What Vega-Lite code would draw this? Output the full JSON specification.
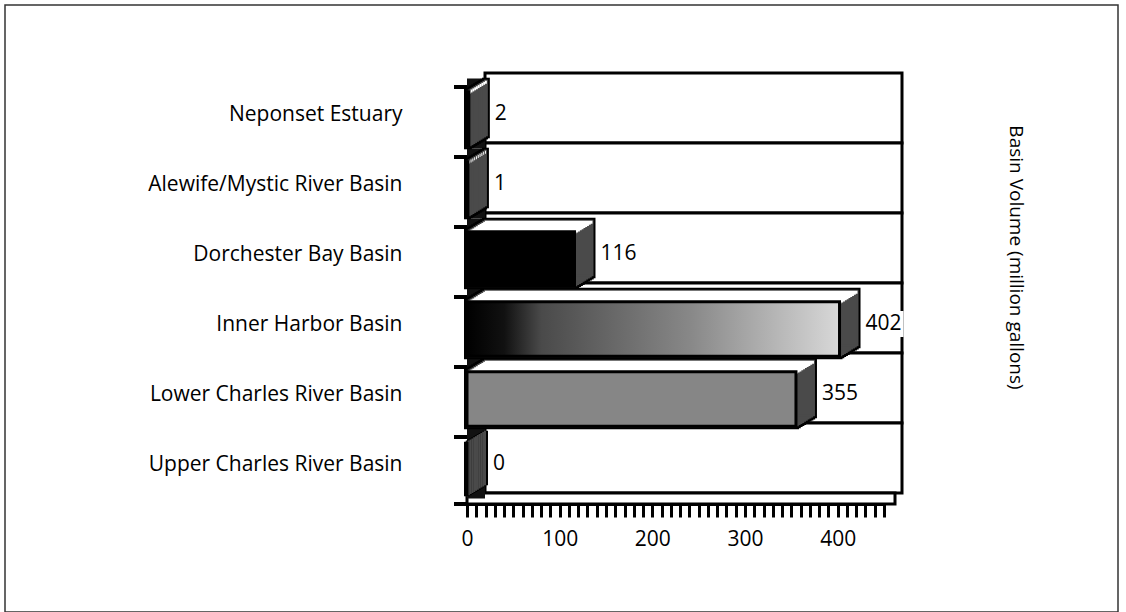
{
  "$schema": "https://vega.github.io/schema/vega-lite/v6.json",
  "width": 1113,
  "height": 607,
  "autosize": {"type": "none"},
  "padding": {"left": 5, "top": 5, "right": 8, "bottom": 0},
  "background": "white",
  "config": {
    "font": "Open Sans",
    "view": {"stroke": "#333333", "strokeWidth": 1.5}
  },
  "data": {
    "values": [
      {"basin": "Neponset Estuary", "volume": 2},
      {"basin": "Alewife/Mystic River Basin", "volume": 1},
      {"basin": "Dorchester Bay Basin", "volume": 116},
      {"basin": "Inner Harbor Basin", "volume": 402},
      {"basin": "Lower Charles River Basin", "volume": 355},
      {"basin": "Upper Charles River Basin", "volume": 0}
    ]
  },
  "encoding": {
    "y": {
      "field": "basin",
      "type": "nominal",
      "sort": null,
      "scale": {
        "domain": ["Neponset Estuary", "Alewife/Mystic River Basin", "Dorchester Bay Basin", "Inner Harbor Basin", "Lower Charles River Basin", "Upper Charles River Basin"],
        "range": [79, 499],
        "paddingInner": 0,
        "paddingOuter": 0
      }
    }
  },
  "layer": [
    {
      "description": "back wall panels, one per basin",
      "mark": {"type": "rect", "fill": "white", "stroke": "black", "strokeWidth": 3, "xOffset": 18, "x2Offset": 18, "yOffset": -11, "y2Offset": -11},
      "encoding": {
        "x": {"datum": 0, "type": "quantitative", "scale": {"domain": [0, 450], "range": [462, 879], "nice": false, "zero": true}},
        "x2": {"datum": 450}
      }
    },
    {
      "description": "floor strip under the bottom row",
      "transform": [{"filter": "datum.basin === 'Upper Charles River Basin'"}],
      "mark": {"type": "bar", "height": 11, "fill": "white", "stroke": "black", "strokeWidth": 3, "yOffset": 29.5, "x2Offset": 11},
      "encoding": {"x": {"datum": 0, "type": "quantitative"}, "x2": {"datum": 450}}
    },
    {
      "description": "left side wall",
      "mark": {"type": "rect", "fill": "#111111", "x2Offset": 18, "yOffset": -5.5, "y2Offset": -5.5},
      "encoding": {"x": {"datum": 0, "type": "quantitative"}, "x2": {"datum": 0}}
    },

    {"mark": {"type": "bar", "height": {"band": 0.78}, "fill": "black", "stroke": "black", "strokeWidth": 6, "xOffset": 0, "x2Offset": 0, "yOffset": 0},
     "encoding": {
       "x": {"field": "volume", "type": "quantitative", "scale": {"domain": [0, 450], "range": [462, 879], "nice": false, "zero": true},
             "axis": {"title": null, "offset": -108, "zindex": 1, "tickCount": 60,
                      "values": [0,10,20,30,40,50,60,70,80,90,100,110,120,130,140,150,160,170,180,190,200,210,220,230,240,250,260,270,280,290,300,310,320,330,340,350,360,370,380,390,400,410,420,430,440,450],
                      "labelExpr": "datum.value % 100 === 0 ? datum.label : ''",
                      "grid": false, "domainColor": "black", "domainWidth": 3, "tickColor": "black", "tickWidth": 3, "tickSize": 13,
                      "labelFontSize": 21, "labelColor": "black", "labelPadding": 11, "labelFlush": false, "labelOverlap": false, "labelBound": false}},
       "y": {"field": "basin", "type": "nominal",
             "axis": {"offset": -462, "zindex": 1, "ticks": false, "domain": false, "grid": false,
                      "labelPadding": 65, "labelFontSize": 21, "labelColor": "black", "labelOffset": -4, "labelLimit": 400,
                      "title": "Basin Volume (million gallons)", "titleAngle": 90, "titleX": 548, "titleY": 252,
                      "titleAlign": "center", "titleBaseline": "middle", "titleFontSize": 19, "titleFontWeight": "normal", "titleColor": "black"}}
     }},
    {"mark": {"type": "bar", "height": {"band": 0.78}, "fill": "black", "stroke": "black", "strokeWidth": 6, "xOffset": 1.8, "x2Offset": 1.8, "yOffset": -1.1}, "encoding": {"x": {"field": "volume", "type": "quantitative"}}},
    {"mark": {"type": "bar", "height": {"band": 0.78}, "fill": "black", "stroke": "black", "strokeWidth": 6, "xOffset": 3.6, "x2Offset": 3.6, "yOffset": -2.2}, "encoding": {"x": {"field": "volume", "type": "quantitative"}}},
    {"mark": {"type": "bar", "height": {"band": 0.78}, "fill": "black", "stroke": "black", "strokeWidth": 6, "xOffset": 5.4, "x2Offset": 5.4, "yOffset": -3.3}, "encoding": {"x": {"field": "volume", "type": "quantitative"}}},
    {"mark": {"type": "bar", "height": {"band": 0.78}, "fill": "black", "stroke": "black", "strokeWidth": 6, "xOffset": 7.2, "x2Offset": 7.2, "yOffset": -4.4}, "encoding": {"x": {"field": "volume", "type": "quantitative"}}},
    {"mark": {"type": "bar", "height": {"band": 0.78}, "fill": "black", "stroke": "black", "strokeWidth": 6, "xOffset": 9, "x2Offset": 9, "yOffset": -5.5}, "encoding": {"x": {"field": "volume", "type": "quantitative"}}},
    {"mark": {"type": "bar", "height": {"band": 0.78}, "fill": "black", "stroke": "black", "strokeWidth": 6, "xOffset": 10.8, "x2Offset": 10.8, "yOffset": -6.6}, "encoding": {"x": {"field": "volume", "type": "quantitative"}}},
    {"mark": {"type": "bar", "height": {"band": 0.78}, "fill": "black", "stroke": "black", "strokeWidth": 6, "xOffset": 12.6, "x2Offset": 12.6, "yOffset": -7.7}, "encoding": {"x": {"field": "volume", "type": "quantitative"}}},
    {"mark": {"type": "bar", "height": {"band": 0.78}, "fill": "black", "stroke": "black", "strokeWidth": 6, "xOffset": 14.4, "x2Offset": 14.4, "yOffset": -8.8}, "encoding": {"x": {"field": "volume", "type": "quantitative"}}},
    {"mark": {"type": "bar", "height": {"band": 0.78}, "fill": "black", "stroke": "black", "strokeWidth": 6, "xOffset": 16.2, "x2Offset": 16.2, "yOffset": -9.9}, "encoding": {"x": {"field": "volume", "type": "quantitative"}}},
    {"mark": {"type": "bar", "height": {"band": 0.78}, "fill": "black", "stroke": "black", "strokeWidth": 6, "xOffset": 18, "x2Offset": 18, "yOffset": -11}, "encoding": {"x": {"field": "volume", "type": "quantitative"}}},

    {"mark": {"type": "bar", "height": {"band": 0.78}, "fill": "#4a4a4a", "stroke": "#4a4a4a", "strokeWidth": 2, "xOffset": 0, "x2Offset": 0, "yOffset": 0}, "encoding": {"x": {"field": "volume", "type": "quantitative"}}},
    {"mark": {"type": "bar", "height": {"band": 0.78}, "fill": "#4a4a4a", "stroke": "#4a4a4a", "strokeWidth": 2, "xOffset": 1.8, "x2Offset": 1.8, "yOffset": -1.1}, "encoding": {"x": {"field": "volume", "type": "quantitative"}}},
    {"mark": {"type": "bar", "height": {"band": 0.78}, "fill": "#4a4a4a", "stroke": "#4a4a4a", "strokeWidth": 2, "xOffset": 3.6, "x2Offset": 3.6, "yOffset": -2.2}, "encoding": {"x": {"field": "volume", "type": "quantitative"}}},
    {"mark": {"type": "bar", "height": {"band": 0.78}, "fill": "#4a4a4a", "stroke": "#4a4a4a", "strokeWidth": 2, "xOffset": 5.4, "x2Offset": 5.4, "yOffset": -3.3}, "encoding": {"x": {"field": "volume", "type": "quantitative"}}},
    {"mark": {"type": "bar", "height": {"band": 0.78}, "fill": "#4a4a4a", "stroke": "#4a4a4a", "strokeWidth": 2, "xOffset": 7.2, "x2Offset": 7.2, "yOffset": -4.4}, "encoding": {"x": {"field": "volume", "type": "quantitative"}}},
    {"mark": {"type": "bar", "height": {"band": 0.78}, "fill": "#4a4a4a", "stroke": "#4a4a4a", "strokeWidth": 2, "xOffset": 9, "x2Offset": 9, "yOffset": -5.5}, "encoding": {"x": {"field": "volume", "type": "quantitative"}}},
    {"mark": {"type": "bar", "height": {"band": 0.78}, "fill": "#4a4a4a", "stroke": "#4a4a4a", "strokeWidth": 2, "xOffset": 10.8, "x2Offset": 10.8, "yOffset": -6.6}, "encoding": {"x": {"field": "volume", "type": "quantitative"}}},
    {"mark": {"type": "bar", "height": {"band": 0.78}, "fill": "#4a4a4a", "stroke": "#4a4a4a", "strokeWidth": 2, "xOffset": 12.6, "x2Offset": 12.6, "yOffset": -7.7}, "encoding": {"x": {"field": "volume", "type": "quantitative"}}},
    {"mark": {"type": "bar", "height": {"band": 0.78}, "fill": "#4a4a4a", "stroke": "#4a4a4a", "strokeWidth": 2, "xOffset": 14.4, "x2Offset": 14.4, "yOffset": -8.8}, "encoding": {"x": {"field": "volume", "type": "quantitative"}}},
    {"mark": {"type": "bar", "height": {"band": 0.78}, "fill": "#4a4a4a", "stroke": "#4a4a4a", "strokeWidth": 2, "xOffset": 16.2, "x2Offset": 16.2, "yOffset": -9.9}, "encoding": {"x": {"field": "volume", "type": "quantitative"}}},
    {"mark": {"type": "bar", "height": {"band": 0.78}, "fill": "#4a4a4a", "stroke": "#4a4a4a", "strokeWidth": 2, "xOffset": 18, "x2Offset": 18, "yOffset": -11}, "encoding": {"x": {"field": "volume", "type": "quantitative"}}},

    {"mark": {"type": "bar", "height": 3, "fill": "white", "xOffset": 1.8, "x2Offset": 1.8, "yOffset": -26.9}, "encoding": {"x": {"field": "volume", "type": "quantitative"}}},
    {"mark": {"type": "bar", "height": 3, "fill": "white", "xOffset": 3.6, "x2Offset": 3.6, "yOffset": -28}, "encoding": {"x": {"field": "volume", "type": "quantitative"}}},
    {"mark": {"type": "bar", "height": 3, "fill": "white", "xOffset": 5.4, "x2Offset": 5.4, "yOffset": -29.1}, "encoding": {"x": {"field": "volume", "type": "quantitative"}}},
    {"mark": {"type": "bar", "height": 3, "fill": "white", "xOffset": 7.2, "x2Offset": 7.2, "yOffset": -30.2}, "encoding": {"x": {"field": "volume", "type": "quantitative"}}},
    {"mark": {"type": "bar", "height": 3, "fill": "white", "xOffset": 9, "x2Offset": 9, "yOffset": -31.3}, "encoding": {"x": {"field": "volume", "type": "quantitative"}}},
    {"mark": {"type": "bar", "height": 3, "fill": "white", "xOffset": 10.8, "x2Offset": 10.8, "yOffset": -32.4}, "encoding": {"x": {"field": "volume", "type": "quantitative"}}},
    {"mark": {"type": "bar", "height": 3, "fill": "white", "xOffset": 12.6, "x2Offset": 12.6, "yOffset": -33.5}, "encoding": {"x": {"field": "volume", "type": "quantitative"}}},
    {"mark": {"type": "bar", "height": 3, "fill": "white", "xOffset": 14.4, "x2Offset": 14.4, "yOffset": -34.6}, "encoding": {"x": {"field": "volume", "type": "quantitative"}}},
    {"mark": {"type": "bar", "height": 3, "fill": "white", "xOffset": 16.2, "x2Offset": 16.2, "yOffset": -35.7}, "encoding": {"x": {"field": "volume", "type": "quantitative"}}},
    {"mark": {"type": "bar", "height": 3, "fill": "white", "xOffset": 18, "x2Offset": 18, "yOffset": -36.8}, "encoding": {"x": {"field": "volume", "type": "quantitative"}}},

    {
      "description": "front faces: solid black, hatched grey",
      "transform": [{"filter": "datum.basin !== 'Inner Harbor Basin'"}],
      "mark": {"type": "bar", "height": {"band": 0.78}, "stroke": "black", "strokeWidth": 3},
      "encoding": {
        "x": {"field": "volume", "type": "quantitative"},
        "fill": {"condition": {"test": "datum.basin === 'Lower Charles River Basin'", "value": "#868686"}, "value": "black"}
      }
    },
    {
      "description": "front face with dark-to-light shading",
      "transform": [{"filter": "datum.basin === 'Inner Harbor Basin'"}],
      "mark": {
        "type": "bar", "height": {"band": 0.78}, "stroke": "black", "strokeWidth": 3,
        "fill": {"gradient": "linear", "x1": 0, "y1": 0, "x2": 1, "y2": 0,
                 "stops": [{"offset": 0, "color": "#000000"}, {"offset": 0.1, "color": "#111111"}, {"offset": 0.2, "color": "#4a4a4a"}, {"offset": 0.6, "color": "#888888"}, {"offset": 1, "color": "#d8d8d8"}]}
      },
      "encoding": {"x": {"field": "volume", "type": "quantitative"}}
    },

    {
      "description": "white backing behind the value labels",
      "mark": {"type": "bar", "height": 26, "fill": "white", "xOffset": 23, "x2Offset": 64, "yOffset": -5},
      "encoding": {"x": {"field": "volume", "type": "quantitative"}, "x2": {"field": "volume"}}
    },
    {
      "description": "value labels",
      "mark": {"type": "text", "align": "left", "baseline": "middle", "dx": 26, "dy": -5, "fontSize": 21, "color": "black"},
      "encoding": {
        "x": {"field": "volume", "type": "quantitative"},
        "text": {"field": "volume", "type": "quantitative"}
      }
    },
    {
      "description": "category tick marks on the left edge",
      "mark": {"type": "rule", "stroke": "black", "strokeWidth": 4, "xOffset": -13, "yOffset": 3},
      "encoding": {
        "x": {"datum": 0, "type": "quantitative"},
        "x2": {"datum": 0},
        "y": {"field": "basin", "type": "nominal", "bandPosition": 0}
      }
    },
    {
      "transform": [{"filter": "datum.basin === 'Upper Charles River Basin'"}],
      "mark": {"type": "rule", "stroke": "black", "strokeWidth": 4, "xOffset": -13},
      "encoding": {
        "x": {"datum": 0, "type": "quantitative"},
        "x2": {"datum": 0},
        "y": {"field": "basin", "type": "nominal", "bandPosition": 1}
      }
    }
  ]
}
